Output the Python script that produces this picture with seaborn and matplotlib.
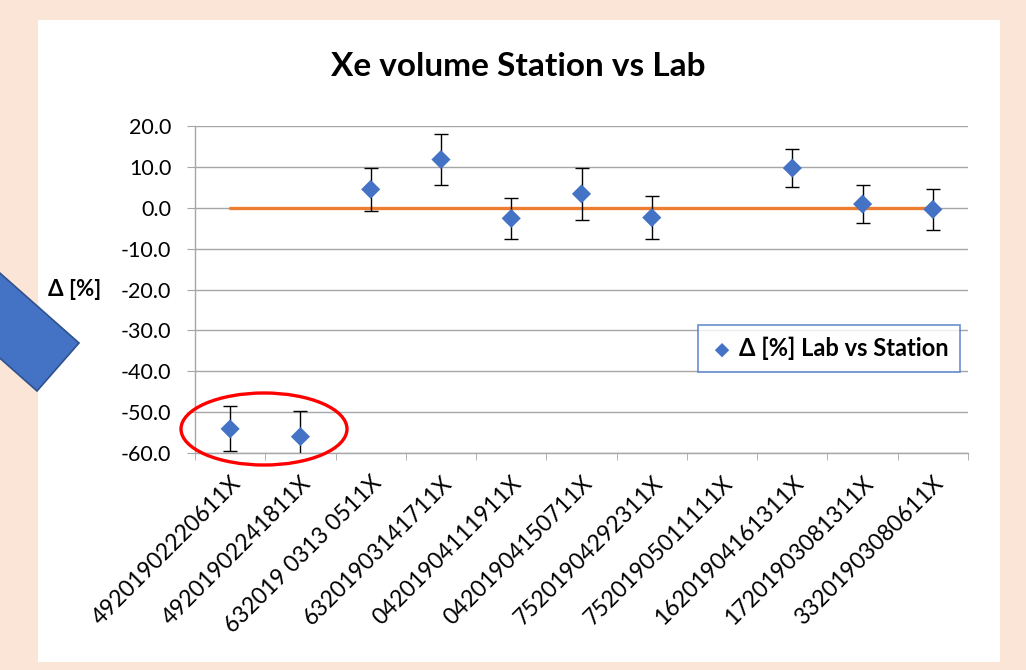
import numpy as np
import pandas as pd
import seaborn as sns
import matplotlib.pyplot as plt
from matplotlib.patches import Ellipse, Polygon, Rectangle

# Data
samples = ["49201902220611X", "49201902241811X", "632019 0313 0511X",
           "63201903141711X", "04201904111911X", "04201904150711X",
           "75201904292311X", "75201905011111X", "16201904161311X",
           "17201903081311X", "33201903080611X"]
delta = [-54.1, -56.0, 4.5, 11.8, -2.6, 3.4, -2.4, np.nan, 9.7, 0.9, -0.4]
err = [5.5, 6.3, 5.3, 6.3, 5.1, 6.3, 5.3, np.nan, 4.6, 4.7, 5.0]
reference = [0.0] * len(samples)

df = pd.DataFrame({"pos": np.arange(len(samples)), "delta": delta, "err": err, "ref": reference})

sns.set_style("white")
plt.rcParams['font.family'] = ['Lato', 'DejaVu Sans']
plt.rcParams['text.color'] = 'black'
plt.rcParams['xtick.color'] = 'black'
plt.rcParams['ytick.color'] = 'black'

fig = plt.figure(figsize=(10.26, 6.70), dpi=100)
fig.patch.set_facecolor("#FBE5D6")
W, H = 1026, 670
# white chart area
fig.patches.append(Rectangle((38 / W, 1 - 662 / H), (1000 - 38) / W, (662 - 20) / H,
                             transform=fig.transFigure, facecolor="white", edgecolor="none", zorder=-10))
# blue shape on the left
fig.patches.append(Polygon([(79 / W, 1 - 343 / H), (37 / W, 1 - 391 / H), (-93 / W, 1 - 276 / H), (-51 / W, 1 - 228 / H)],
                           closed=True, transform=fig.transFigure, facecolor="#4472C4",
                           edgecolor="#2F528F", linewidth=1.2, zorder=1))

ax = fig.add_axes([195 / W, 1 - 453 / H, (968 - 195) / W, (453 - 126) / H])
ax.set_facecolor("white")

sns.lineplot(data=df, x="pos", y="ref", color="#ED7D31", linewidth=2.4, ax=ax, zorder=2)
valid = df.dropna()
ax.errorbar(valid["pos"], valid["delta"], yerr=valid["err"], fmt="none", ecolor="black",
            elinewidth=1.0, capsize=5, capthick=1.0, zorder=3)
sns.scatterplot(data=df, x="pos", y="delta", marker="D", s=95, color="#4472C4",
                edgecolor="none", ax=ax, zorder=4, label="Δ [%] Lab vs Station")

ax.set_xlim(-0.5, len(samples) - 0.5)
ax.set_ylim(-60, 20)
ax.set_yticks(np.arange(-60, 21, 10))
ax.set_yticklabels([f"{v:.1f}" for v in np.arange(-60, 21, 10)], fontsize=15.5)
ax.yaxis.grid(True, color="#A6A6A6", linewidth=1.0)
ax.set_axisbelow(True)

ax.set_xticks(df["pos"])
ax.set_xticklabels(samples, rotation=45, ha="right", va="top", rotation_mode="anchor", fontsize=16.5)
ax.set_xticks(np.arange(-0.5, len(samples), 1), minor=True)
ax.tick_params(axis="x", which="major", length=0, pad=14)
ax.tick_params(axis="x", which="minor", length=5, color="#A6A6A6", direction="out", bottom=True)
ax.tick_params(axis="y", length=6, color="#A6A6A6", labelcolor="black", direction="out", left=True, pad=11)
ax.tick_params(axis="x", labelcolor="black")

for side in ["top", "right"]:
    ax.spines[side].set_visible(False)
for side in ["left", "bottom"]:
    ax.spines[side].set_color("#A6A6A6")
    ax.spines[side].set_linewidth(1.0)

ax.set_xlabel("")
ax.set_ylabel("")

leg = ax.legend(loc="center left", bbox_to_anchor=(0.636, 0.319), frameon=True, fancybox=False,
                prop={"weight": "bold", "size": 17}, handletextpad=0.2, borderpad=0.5,
                markerscale=0.75, handlelength=1.0)
leg.get_frame().set_edgecolor("#4472C4")
leg.get_frame().set_linewidth(1.2)

fig.text(518 / W, 1 - 66 / H, "Xe volume Station vs Lab", ha="center", va="center",
         fontsize=24, fontweight="bold")
fig.text(75 / W, 1 - 290 / H, "Δ [%]", ha="center", va="center", fontsize=16, fontweight="bold")

# red ellipse highlighting the outliers
fig.patches.append(Ellipse((264 / W, 1 - 429 / H), 166 / W, 72 / H, transform=fig.transFigure,
                           facecolor="none", edgecolor="#FF0000", linewidth=2.4, zorder=10))

fig.savefig("out.png", dpi=100)
